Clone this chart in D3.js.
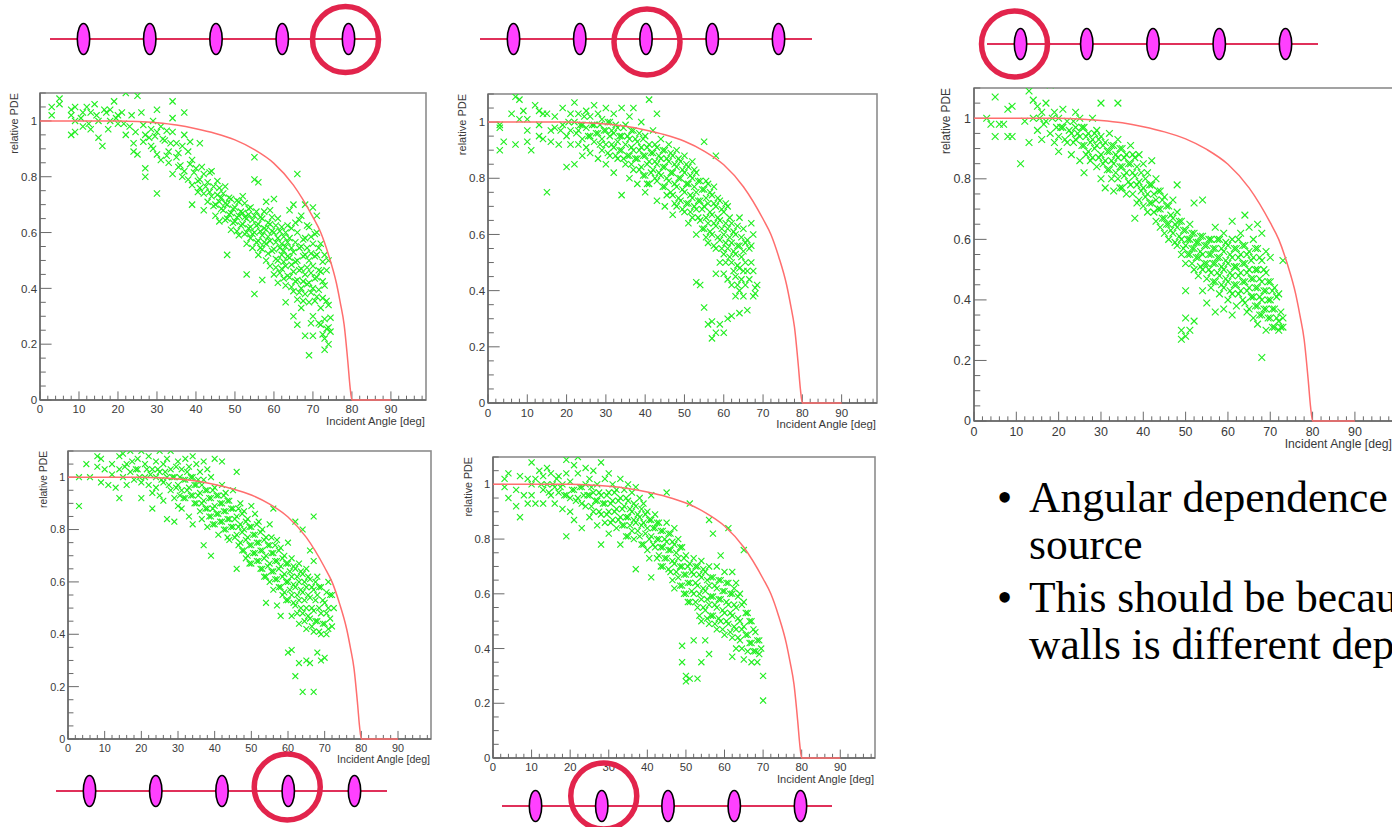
<!DOCTYPE html>
<html>
<head>
<meta charset="utf-8">
<script src="https://cdn.jsdelivr.net/npm/d3@7"></script>
<style>
  html, body { margin: 0; padding: 0; background: #fff; overflow: hidden; }
  svg { display: block; }
</style>
</head>
<body>
<svg id="slide" width="1392" height="827"></svg>
<script>
// ---- axis ticks ----
const angleTicks = [0, 10, 20, 30, 40, 50, 60, 70, 80, 90];
const angleTickLabels = ["0", "10", "20", "30", "40", "50", "60", "70", "80", "90"];
const pdeTicks = [0, 0.2, 0.4, 0.6, 0.8, 1];
const pdeTickLabels = ["0", "0.2", "0.4", "0.6", "0.8", "1"];

// ---- expected relative PDE versus incident angle (red curve) ----
const curveAngle = [0, 10, 20, 25, 30, 35, 40, 45, 50, 55, 60, 65, 70, 72, 74, 76, 77, 78, 79, 79.5, 80, 90];
const curvePDE   = [1, 1, 1, 0.998, 0.993, 0.985, 0.972, 0.955, 0.932, 0.897, 0.848, 0.77, 0.655, 0.6, 0.52, 0.42, 0.35, 0.27, 0.13, 0.05, 0, 0];

// ---- light source positions along the rail ----
const sourceSlots = [1, 2, 3, 4, 5];

// ---- measured relative PDE, [angle (deg), relative PDE], one list per source position ----
const pointsPos5 = [
[3,1.05],[3,1.02],[5,1.08],[5,1.06],[8,1.04],[8,1.02],[8,0.95],[9,1.05],[9,1.0],[9,0.96],[11,1.03],[11,0.98],[12,1.05],[13,1.03],[13,0.97],
[14,1.06],[15,1.0],[15,0.94],[16,0.91],[17,1.03],[18,1.0],[18,1.04],[19,1.07],[20,1.02],[20,0.99],[21,1.03],[22,0.95],[22,1.1],[23,0.98],
[24,0.92],[24,0.89],[25,1.09],[25,0.88],[26,1.03],[27,0.95],[27,0.83],[27,0.8],[28,0.94],[29,1.0],[29,0.9],[30,1.04],[30,0.96],[30,0.88],
[31,0.98],[31,0.86],[30,0.74],[32,0.93],[33,0.89],[33,0.85],[34,1.07],[34,1.01],[34,0.96],[34,0.81],[35,0.92],[35,0.87],[36,0.84],[37,1.03],
[37,0.95],[37,0.82],[38,0.89],[38,0.79],[39,0.86],[39,0.77],[39,0.7],[40,0.83],[41,0.79],[41,0.76],[41,0.92],[42,0.81],[42,0.74],[42,0.68],
[43,0.78],[43,0.71],[44,0.73],[44,0.82],[45,0.7],[45,0.66],[46,0.76],[46,0.71],[46,0.64],[47,0.68],[47,0.74],[48,0.7],[48,0.65],[48,0.52],
[49,0.72],[49,0.67],[49,0.61],[50,0.69],[50,0.64],[51,0.71],[51,0.66],[51,0.59],[52,0.67],[52,0.63],[52,0.73],[53,0.65],[53,0.6],[53,0.56],
[53,0.45],[54,0.69],[54,0.62],[54,0.58],[55,0.66],[55,0.6],[55,0.87],[55,0.79],[55,0.38],[56,0.63],[56,0.57],[56,0.52],[56,0.78],[57,0.65],
[57,0.59],[57,0.54],[57,0.43],[58,0.61],[58,0.56],[58,0.5],[58,0.71],[59,0.63],[59,0.57],[59,0.48],[59,0.68],[60,0.6],[60,0.54],[60,0.45],
[60,0.72],[61,0.58],[61,0.5],[61,0.42],[61,0.65],[62,0.56],[62,0.52],[62,0.47],[62,0.62],[63,0.55],[63,0.48],[63,0.41],[63,0.35],[63,0.6],
[64,0.58],[64,0.51],[64,0.44],[64,0.68],[65,0.53],[65,0.46],[65,0.39],[65,0.3],[65,0.7],[66,0.81],[66,0.6],[66,0.5],[66,0.43],[66,0.36],
[66,0.27],[67,0.66],[67,0.55],[67,0.47],[67,0.4],[67,0.33],[68,0.7],[68,0.58],[68,0.52],[68,0.45],[68,0.38],[68,0.23],[69,0.62],[69,0.5],
[69,0.42],[69,0.35],[69,0.16],[70,0.69],[70,0.56],[70,0.48],[70,0.4],[70,0.3],[70,0.23],[71,0.66],[71,0.6],[71,0.52],[71,0.44],[71,0.37],
[72,0.56],[72,0.46],[72,0.33],[72,0.27],[73,0.52],[73,0.41],[73,0.29],[73,0.22],[74,0.5],[74,0.34],[74,0.26],[73,0.18],[74,0.2],
[10.5,1.01],[12.5,0.99],[14.5,1.02],[16.5,1.04],[17.5,0.97],[19.5,1.01],[21.5,0.99],[23.5,1.02],[24.5,0.96],[26.5,0.985],[26.5,0.925],
[28.5,0.97],[28.5,0.91],[29.5,0.945],[31.5,0.935],[32.5,0.875],[32.5,0.965],[33.5,0.92],[35.5,0.885],[35.5,0.835],[36.5,0.91],[36.5,0.8],
[38.5,0.845],[38.5,0.925],[39.5,0.815],[40.5,0.785],[40.5,0.745],[41.5,0.835],[42.5,0.765],[43.5,0.745],[43.5,0.815],[44.5,0.695],[44.5,0.765],
[45.5,0.735],[45.5,0.785],[46.5,0.685],[46.5,0.725],[47.5,0.705],[47.5,0.645],[47.5,0.765],[48.5,0.665],[48.5,0.725],[49.5,0.685],[49.5,0.635],
[50.5,0.715],[50.5,0.655],[50.5,0.605],[51.5,0.675],[51.5,0.625],[52.5,0.655],[52.5,0.595],[52.5,0.705],[53.5,0.665],[53.5,0.615],[53.5,0.685],
[54.5,0.645],[54.5,0.595],[54.5,0.545],[55.5,0.625],[55.5,0.565],[55.5,0.675],[56.5,0.655],[56.5,0.605],[56.5,0.545],[57.5,0.615],[57.5,0.565],
[57.5,0.675],[58.5,0.635],[58.5,0.585],[58.5,0.525],[59.5,0.605],[59.5,0.535],[59.5,0.655],[60.5,0.625],[60.5,0.565],[60.5,0.505],[60.5,0.475],
[61.5,0.605],[61.5,0.545],[61.5,0.455],[62.5,0.585],[62.5,0.535],[62.5,0.495],[62.5,0.435],[63.5,0.565],[63.5,0.515],[63.5,0.445],[63.5,0.625],
[64.5,0.545],[64.5,0.485],[64.5,0.405],[64.5,0.615],[65.5,0.565],[65.5,0.495],[65.5,0.425],[65.5,0.635],[66.5,0.545],[66.5,0.465],[66.5,0.385],
[66.5,0.645],[67.5,0.575],[67.5,0.515],[67.5,0.425],[67.5,0.355],[68.5,0.545],[68.5,0.475],[68.5,0.415],[68.5,0.625],[69.5,0.585],[69.5,0.525],
[69.5,0.455],[69.5,0.385],[69.5,0.275],[70.5,0.595],[70.5,0.515],[70.5,0.435],[70.5,0.355],[71.5,0.545],[71.5,0.465],[71.5,0.395],[71.5,0.275],
[72.5,0.495],[72.5,0.425],[72.5,0.365],[72.5,0.235],[73.5,0.465],[73.5,0.355],[73.5,0.255],[74.5,0.245],[74.5,0.295]
];

const pointsPos3 = [
[3,0.99],[3,0.98],[3,0.9],[4,0.93],[6,1.03],[7,0.92],[7,1.09],[8,1.08],[8,1.01],[9,1.04],[10,0.97],[10,0.93],[10,1.01],[11,0.9],[12,1.06],
[13,0.99],[13,0.95],[13,1.04],[14,1.03],[14,0.94],[15,0.75],[15,1.03],[16,0.97],[16,0.93],[17,1.02],[17,0.98],[18,0.92],[19,1.05],[19,0.99],
[20,0.84],[20,0.95],[21,1.03],[21,0.97],[21,0.92],[22,1.07],[22,1.0],[22,0.85],[23,1.03],[23,0.97],[23,0.92],[24,0.99],[24,0.94],[24,0.88],
[25,1.04],[25,0.98],[25,0.91],[26,1.02],[26,0.95],[26,0.89],[27,1.06],[27,0.99],[27,0.93],[28,1.03],[28,0.96],[28,0.87],[29,1.01],[29,0.94],
[29,0.9],[30,1.05],[30,0.97],[30,0.92],[30,0.85],[31,1.0],[31,0.95],[31,0.88],[32,1.03],[32,0.96],[32,0.91],[32,0.82],[33,0.98],[33,0.93],
[33,0.87],[34,1.05],[34,0.95],[34,0.9],[34,0.74],[35,0.99],[35,0.92],[35,0.85],[36,1.02],[36,0.94],[36,0.88],[36,0.8],[37,1.05],[37,0.97],
[37,0.9],[37,0.83],[38,0.93],[38,0.87],[38,0.78],[39,1.0],[39,0.91],[39,0.84],[40,0.95],[40,0.88],[40,0.81],[40,0.75],[41,1.08],[41,0.92],
[41,0.86],[41,0.78],[42,0.97],[42,0.89],[42,0.83],[43,1.03],[43,0.91],[43,0.85],[43,0.79],[43,0.72],[44,0.94],[44,0.87],[44,0.81],[45,0.9],
[45,0.84],[45,0.77],[45,0.7],[46,0.92],[46,0.86],[46,0.79],[47,0.88],[47,0.82],[47,0.74],[47,0.67],[48,0.9],[48,0.84],[48,0.77],[48,0.7],
[49,0.86],[49,0.8],[49,0.72],[50,0.88],[50,0.82],[50,0.75],[50,0.68],[51,0.84],[51,0.78],[51,0.71],[51,0.64],[52,0.86],[52,0.8],[52,0.73],
[52,0.66],[53,0.82],[53,0.75],[53,0.69],[53,0.43],[53,0.6],[54,0.79],[54,0.72],[54,0.65],[54,0.42],[55,0.93],[55,0.76],[55,0.7],[55,0.62],
[55,0.34],[56,0.78],[56,0.71],[56,0.64],[56,0.57],[56,0.28],[57,0.74],[57,0.67],[57,0.6],[57,0.29],[57,0.23],[58,0.88],[58,0.7],[58,0.63],
[58,0.55],[58,0.46],[58,0.25],[59,0.72],[59,0.65],[59,0.58],[59,0.5],[59,0.28],[60,0.68],[60,0.6],[60,0.53],[60,0.46],[60,0.25],[61,0.7],
[61,0.62],[61,0.55],[61,0.44],[61,0.3],[62,0.64],[62,0.57],[62,0.5],[62,0.42],[62,0.31],[63,0.6],[63,0.53],[63,0.45],[63,0.38],[64,0.66],
[64,0.56],[64,0.48],[64,0.4],[64,0.32],[65,0.62],[65,0.54],[65,0.47],[65,0.38],[66,0.58],[66,0.47],[66,0.33],[67,0.64],[67,0.56],[67,0.5],
[68,0.41],[68,0.39],
[18.5,0.97],[20.5,1.0],[22.5,0.96],[23.5,0.99],[24.5,1.02],[25.5,0.95],[26.5,0.99],[27.5,0.96],[28.5,0.99],[28.5,0.92],[29.5,0.97],[30.5,1.0],
[30.5,0.89],[31.5,0.97],[31.5,0.92],[32.5,0.99],[32.5,0.88],[33.5,0.95],[33.5,0.9],[34.5,0.98],[34.5,0.87],[35.5,0.95],[35.5,0.88],[36.5,0.97],
[36.5,0.91],[36.5,0.85],[37.5,0.94],[37.5,0.87],[38.5,0.96],[38.5,0.9],[38.5,0.83],[39.5,0.94],[39.5,0.88],[39.5,0.81],[40.5,0.91],[40.5,0.85],
[40.5,0.78],[41.5,0.89],[41.5,0.82],[42.5,0.92],[42.5,0.86],[42.5,0.8],[43.5,0.88],[43.5,0.82],[44.5,0.9],[44.5,0.84],[44.5,0.77],[45.5,0.87],
[45.5,0.8],[45.5,0.74],[46.5,0.89],[46.5,0.82],[46.5,0.75],[47.5,0.85],[47.5,0.78],[47.5,0.71],[48.5,0.87],[48.5,0.8],[48.5,0.73],[49.5,0.83],
[49.5,0.76],[49.5,0.69],[50.5,0.85],[50.5,0.78],[50.5,0.71],[51.5,0.81],[51.5,0.74],[51.5,0.68],[52.5,0.83],[52.5,0.77],[52.5,0.7],[53.5,0.79],
[53.5,0.72],[53.5,0.66],[54.5,0.76],[54.5,0.69],[54.5,0.62],[55.5,0.79],[55.5,0.73],[55.5,0.66],[55.5,0.59],[56.5,0.75],[56.5,0.68],[56.5,0.61],
[57.5,0.77],[57.5,0.71],[57.5,0.64],[57.5,0.56],[58.5,0.73],[58.5,0.66],[58.5,0.59],[59.5,0.69],[59.5,0.62],[59.5,0.55],[60.5,0.71],[60.5,0.64],
[60.5,0.57],[60.5,0.5],[61.5,0.66],[61.5,0.59],[61.5,0.52],[62.5,0.61],[62.5,0.54],[62.5,0.47],[63.5,0.63],[63.5,0.56],[63.5,0.49],[63.5,0.42],
[64.5,0.59],[64.5,0.52],[64.5,0.44],[65.5,0.57],[65.5,0.5],[65.5,0.42],[66.5,0.55],[66.5,0.44],[67.5,0.6],[67.5,0.47],[68.5,0.42],[67.5,0.38]
];

const pointsPos1 = [
[3,1.0],[4,0.98],[5,1.07],[5,0.94],[6,0.98],[7,0.98],[8,0.94],[8,1.03],[9,1.04],[9,0.94],[11,0.85],[12,0.99],[13,0.92],[13,1.09],[14,1.06],
[14,1.0],[15,1.04],[15,0.96],[16,1.02],[16,0.93],[17,1.05],[17,0.99],[18,1.11],[18,0.95],[19,1.02],[19,0.92],[20,1.0],[20,0.94],[20,0.89],
[21,1.03],[21,0.97],[22,0.92],[22,0.99],[23,0.95],[23,0.88],[24,1.02],[24,0.97],[24,0.93],[25,1.0],[25,0.94],[25,0.86],[26,0.97],[26,0.91],
[26,0.82],[27,0.95],[27,0.89],[28,1.0],[28,0.93],[28,0.87],[29,0.96],[29,0.91],[29,0.84],[30,1.05],[30,0.94],[30,0.88],[30,0.8],[31,0.92],
[31,0.86],[31,0.77],[32,0.95],[32,0.89],[32,0.83],[33,0.91],[33,0.85],[33,0.76],[34,1.05],[34,0.93],[34,0.87],[34,0.8],[35,0.9],[35,0.84],
[35,0.77],[36,0.88],[36,0.82],[36,0.75],[37,0.91],[37,0.85],[37,0.78],[38,0.87],[38,0.81],[38,0.67],[39,0.88],[39,0.79],[39,0.73],[40,0.85],
[40,0.77],[40,0.71],[41,0.82],[41,0.75],[41,0.69],[42,0.86],[42,0.78],[42,0.72],[43,0.8],[43,0.73],[43,0.66],[44,0.76],[44,0.7],[44,0.64],
[45,0.74],[45,0.67],[45,0.62],[46,0.71],[46,0.65],[46,0.6],[47,0.73],[47,0.67],[47,0.62],[48,0.78],[48,0.69],[48,0.64],[48,0.58],[49,0.66],
[49,0.6],[49,0.55],[49,0.3],[49,0.27],[50,0.63],[50,0.58],[50,0.52],[50,0.43],[50,0.34],[50,0.28],[51,0.65],[51,0.6],[51,0.55],[51,0.3],
[52,0.72],[52,0.62],[52,0.57],[52,0.5],[52,0.33],[53,0.59],[53,0.54],[53,0.48],[54,0.73],[54,0.61],[54,0.55],[54,0.5],[54,0.43],[55,0.58],
[55,0.52],[55,0.47],[55,0.39],[56,0.6],[56,0.55],[56,0.49],[56,0.44],[57,0.64],[57,0.57],[57,0.52],[57,0.46],[57,0.36],[58,0.6],[58,0.54],
[58,0.48],[58,0.42],[59,0.62],[59,0.56],[59,0.5],[59,0.44],[59,0.37],[60,0.58],[60,0.52],[60,0.46],[60,0.4],[61,0.66],[61,0.6],[61,0.54],
[61,0.48],[61,0.42],[61,0.35],[62,0.57],[62,0.51],[62,0.45],[62,0.38],[63,0.62],[63,0.55],[63,0.49],[63,0.43],[64,0.68],[64,0.58],[64,0.52],
[64,0.46],[64,0.39],[65,0.64],[65,0.56],[65,0.5],[65,0.44],[65,0.37],[66,0.6],[66,0.54],[66,0.47],[66,0.41],[66,0.34],[67,0.65],[67,0.57],
[67,0.5],[67,0.44],[67,0.38],[67,0.32],[68,0.62],[68,0.53],[68,0.46],[68,0.4],[68,0.35],[68,0.21],[69,0.56],[69,0.49],[69,0.43],[69,0.37],
[69,0.3],[70,0.54],[70,0.46],[70,0.4],[70,0.34],[71,0.44],[71,0.37],[71,0.31],[72,0.42],[72,0.33],[72,0.3],[73,0.53],[73,0.34],[73,0.31],
[15.5,1.0],[16.5,0.98],[18.5,1.0],[19.5,0.97],[20.5,0.97],[21.5,0.93],[22.5,0.96],[23.5,0.99],[23.5,0.92],[24.5,0.95],[25.5,0.97],[25.5,0.91],
[26.5,0.94],[26.5,0.88],[27.5,0.92],[27.5,0.86],[28.5,0.95],[28.5,0.9],[29.5,0.93],[29.5,0.87],[30.5,0.91],[30.5,0.85],[31.5,0.89],[31.5,0.83],
[32.5,0.91],[32.5,0.86],[32.5,0.8],[33.5,0.88],[33.5,0.82],[34.5,0.9],[34.5,0.84],[34.5,0.77],[35.5,0.87],[35.5,0.81],[36.5,0.85],[36.5,0.79],
[37.5,0.88],[37.5,0.82],[37.5,0.75],[38.5,0.84],[38.5,0.78],[38.5,0.72],[39.5,0.82],[39.5,0.76],[40.5,0.8],[40.5,0.74],[41.5,0.78],[41.5,0.72],
[42.5,0.75],[42.5,0.69],[43.5,0.76],[43.5,0.7],[44.5,0.73],[44.5,0.67],[45.5,0.71],[45.5,0.65],[46.5,0.68],[46.5,0.63],[47.5,0.65],[47.5,0.59],
[48.5,0.66],[48.5,0.61],[49.5,0.63],[49.5,0.57],[50.5,0.6],[50.5,0.55],[51.5,0.62],[51.5,0.57],[51.5,0.52],[52.5,0.59],[52.5,0.54],[53.5,0.61],
[53.5,0.56],[53.5,0.51],[54.5,0.58],[54.5,0.52],[55.5,0.6],[55.5,0.55],[55.5,0.5],[56.5,0.57],[56.5,0.52],[56.5,0.46],[57.5,0.6],[57.5,0.54],
[57.5,0.49],[58.5,0.57],[58.5,0.51],[58.5,0.45],[59.5,0.59],[59.5,0.53],[59.5,0.47],[60.5,0.55],[60.5,0.49],[60.5,0.43],[61.5,0.57],[61.5,0.51],
[61.5,0.45],[62.5,0.6],[62.5,0.54],[62.5,0.48],[62.5,0.42],[63.5,0.58],[63.5,0.52],[63.5,0.46],[63.5,0.4],[64.5,0.55],[64.5,0.49],[64.5,0.43],
[64.5,0.36],[65.5,0.53],[65.5,0.47],[65.5,0.41],[66.5,0.57],[66.5,0.5],[66.5,0.44],[66.5,0.38],[67.5,0.54],[67.5,0.47],[67.5,0.41],[67.5,0.35],
[68.5,0.5],[68.5,0.43],[68.5,0.37],[69.5,0.46],[69.5,0.4],[69.5,0.34],[70.5,0.43],[70.5,0.37],[70.5,0.31],[71.5,0.41],[71.5,0.34],[72.5,0.36],
[72.5,0.31]
];

const pointsPos4 = [
[3,1.0],[3,0.89],[5,1.05],[6,1.0],[8,1.08],[8,1.04],[9,1.07],[9,0.98],[10,1.03],[11,0.97],[12,1.05],[12,1.01],[13,0.96],[14,1.08],[14,0.92],
[14,1.03],[15,1.09],[15,1.0],[16,1.05],[16,0.97],[17,1.1],[17,1.02],[18,0.99],[19,1.07],[19,1.03],[20,1.1],[20,0.98],[20,0.92],[21,1.05],
[21,1.0],[22,1.08],[22,0.97],[23,1.03],[23,0.94],[23,0.88],[24,1.06],[24,1.0],[24,0.96],[25,1.1],[25,1.02],[25,0.93],[26,1.05],[26,0.98],
[26,0.91],[27,1.07],[27,1.0],[27,0.84],[28,1.1],[28,1.03],[28,0.95],[29,1.0],[29,0.92],[29,0.83],[30,1.06],[30,0.97],[30,0.89],[31,1.03],
[31,0.95],[31,0.88],[32,1.07],[32,0.99],[32,0.92],[33,1.04],[33,0.96],[33,0.85],[34,1.08],[34,1.0],[34,0.93],[34,0.82],[35,1.05],[35,0.97],
[35,0.9],[36,1.02],[36,0.94],[36,0.87],[37,1.06],[37,0.99],[37,0.91],[37,0.74],[38,1.03],[38,0.95],[38,0.88],[38,0.81],[39,1.0],[39,0.92],
[39,0.85],[39,0.7],[40,1.07],[40,0.96],[40,0.89],[40,0.82],[41,0.93],[41,0.86],[41,0.78],[42,1.06],[42,0.97],[42,0.9],[42,0.83],[43,0.94],
[43,0.87],[43,0.8],[44,0.91],[44,0.84],[44,0.76],[45,0.95],[45,0.88],[45,0.81],[46,1.02],[46,0.85],[46,0.78],[46,0.65],[47,0.9],[47,0.82],
[47,0.75],[48,0.87],[48,0.8],[48,0.72],[49,0.84],[49,0.77],[49,0.7],[50,0.89],[50,0.81],[50,0.74],[50,0.67],[51,0.86],[51,0.78],[51,0.71],
[52,0.83],[52,0.75],[52,0.68],[53,0.8],[53,0.72],[53,0.65],[54,0.77],[54,0.7],[54,0.62],[54,0.52],[55,0.82],[55,0.74],[55,0.67],[55,0.6],
[56,0.88],[56,0.71],[56,0.64],[56,0.57],[57,0.76],[57,0.68],[57,0.61],[57,0.51],[58,0.73],[58,0.66],[58,0.58],[58,0.47],[59,0.7],[59,0.63],
[59,0.56],[60,0.75],[60,0.67],[60,0.6],[60,0.53],[60,0.33],[61,0.69],[61,0.62],[61,0.55],[61,0.47],[61,0.34],[62,0.83],[62,0.65],[62,0.58],
[62,0.51],[62,0.24],[63,0.67],[63,0.6],[63,0.53],[63,0.44],[63,0.29],[64,0.8],[64,0.63],[64,0.56],[64,0.48],[64,0.18],[65,0.65],[65,0.58],
[65,0.5],[65,0.42],[65,0.3],[66,0.72],[66,0.61],[66,0.54],[66,0.46],[66,0.29],[67,0.85],[67,0.68],[67,0.57],[67,0.49],[67,0.41],[67,0.18],
[68,0.62],[68,0.55],[68,0.45],[68,0.33],[69,0.58],[69,0.48],[69,0.4],[69,0.3],[70,0.52],[70,0.44],[70,0.31],[71,0.6],[71,0.5],[71,0.42],
[72,0.55],[72,0.43],
[15.5,1.04],[17.5,1.06],[18.5,1.03],[19.5,1.0],[21.5,1.03],[22.5,1.01],[24.5,1.03],[25.5,0.99],[26.5,1.02],[27.5,0.97],[28.5,1.0],[29.5,1.04],
[29.5,0.96],[30.5,1.0],[30.5,0.93],[31.5,0.99],[31.5,0.92],[32.5,1.02],[32.5,0.95],[33.5,1.0],[33.5,0.93],[34.5,0.97],[34.5,0.9],[35.5,0.99],
[35.5,0.93],[36.5,0.97],[36.5,0.9],[36.5,0.84],[37.5,0.95],[37.5,0.88],[38.5,0.92],[38.5,0.85],[39.5,0.95],[39.5,0.88],[39.5,0.82],[40.5,0.93],
[40.5,0.86],[41.5,0.9],[41.5,0.83],[42.5,0.93],[42.5,0.87],[42.5,0.8],[43.5,0.91],[43.5,0.84],[43.5,0.77],[44.5,0.88],[44.5,0.81],[45.5,0.84],
[45.5,0.77],[46.5,0.88],[46.5,0.81],[46.5,0.74],[47.5,0.86],[47.5,0.79],[47.5,0.72],[48.5,0.83],[48.5,0.76],[48.5,0.69],[49.5,0.81],[49.5,0.74],
[49.5,0.67],[50.5,0.78],[50.5,0.71],[51.5,0.82],[51.5,0.75],[51.5,0.68],[52.5,0.79],[52.5,0.72],[52.5,0.65],[53.5,0.76],[53.5,0.69],[53.5,0.62],
[54.5,0.74],[54.5,0.66],[55.5,0.77],[55.5,0.71],[55.5,0.64],[56.5,0.74],[56.5,0.68],[56.5,0.61],[57.5,0.72],[57.5,0.65],[57.5,0.58],[58.5,0.69],
[58.5,0.62],[58.5,0.55],[59.5,0.67],[59.5,0.6],[59.5,0.53],[60.5,0.64],[60.5,0.57],[61.5,0.66],[61.5,0.59],[61.5,0.52],[62.5,0.62],[62.5,0.55],
[62.5,0.48],[63.5,0.64],[63.5,0.57],[63.5,0.5],[64.5,0.6],[64.5,0.53],[64.5,0.45],[65.5,0.62],[65.5,0.55],[65.5,0.47],[66.5,0.58],[66.5,0.5],
[66.5,0.43],[67.5,0.6],[67.5,0.53],[67.5,0.45],[68.5,0.58],[68.5,0.5],[68.5,0.41],[69.5,0.53],[69.5,0.44],[70.5,0.56],[70.5,0.48],[70.5,0.4],
[71.5,0.46],[71.5,0.55],[72.5,0.5]
];

const pointsPos2 = [
[3,1.02],[3,0.99],[4,1.04],[4,0.95],[6,0.98],[6,0.92],[7,1.03],[7,0.88],[8,0.96],[9,1.02],[9,0.93],[10,1.08],[10,1.0],[10,0.96],[11,1.02],
[11,0.93],[12,1.05],[13,1.03],[13,0.98],[13,0.93],[14,1.06],[14,1.0],[15,1.04],[15,0.96],[16,0.99],[16,0.93],[17,1.03],[17,0.97],[18,1.0],
[18,0.91],[19,1.09],[19,1.04],[19,0.96],[19,0.81],[20,1.01],[20,0.95],[20,0.9],[21,1.07],[21,0.98],[21,0.87],[22,1.04],[22,0.95],[22,1.1],
[23,0.99],[23,0.93],[23,0.84],[24,1.06],[24,1.0],[24,0.92],[25,1.02],[25,0.96],[25,0.88],[26,1.05],[26,0.97],[26,0.9],[27,1.0],[27,0.94],
[27,0.85],[28,1.08],[28,0.96],[28,0.89],[28,0.78],[29,1.02],[29,0.93],[29,0.86],[30,1.04],[30,0.97],[30,0.9],[30,0.82],[31,1.0],[31,0.94],
[31,0.87],[32,0.98],[32,0.91],[32,0.84],[33,1.02],[33,0.95],[33,0.88],[33,0.78],[34,0.98],[34,0.92],[34,0.85],[35,1.0],[35,0.94],[35,0.88],
[35,0.81],[36,0.97],[36,0.9],[36,0.83],[37,0.99],[37,0.92],[37,0.86],[37,0.69],[38,0.95],[38,0.88],[38,0.81],[39,0.93],[39,0.86],[39,0.78],
[40,0.9],[40,0.84],[40,0.76],[41,0.96],[41,0.87],[41,0.81],[41,0.66],[42,0.89],[42,0.84],[42,0.77],[43,0.86],[43,0.8],[43,0.74],[44,0.83],
[44,0.77],[44,0.7],[45,0.97],[45,0.86],[45,0.79],[45,0.73],[46,0.82],[46,0.76],[46,0.68],[47,0.84],[47,0.78],[47,0.71],[47,0.62],[48,0.8],
[48,0.73],[48,0.66],[49,0.77],[49,0.7],[49,0.63],[49,0.41],[49,0.35],[50,0.74],[50,0.67],[50,0.6],[50,0.3],[50,0.28],[51,0.93],[51,0.71],
[51,0.64],[51,0.57],[51,0.29],[52,0.73],[52,0.67],[52,0.6],[52,0.43],[53,0.7],[53,0.63],[53,0.55],[53,0.29],[54,0.72],[54,0.66],[54,0.58],
[54,0.5],[54,0.35],[55,0.68],[55,0.61],[55,0.54],[55,0.43],[56,0.87],[56,0.7],[56,0.63],[56,0.56],[56,0.49],[56,0.38],[57,0.82],[57,0.66],
[57,0.59],[57,0.52],[58,0.7],[58,0.62],[58,0.55],[58,0.47],[59,0.74],[59,0.65],[59,0.58],[59,0.5],[60,0.68],[60,0.61],[60,0.53],[60,0.45],
[61,0.84],[61,0.64],[61,0.56],[61,0.49],[62,0.68],[62,0.6],[62,0.52],[62,0.44],[62,0.37],[63,0.64],[63,0.55],[63,0.47],[63,0.4],[64,0.6],
[64,0.5],[64,0.43],[65,0.76],[65,0.57],[65,0.48],[65,0.36],[66,0.53],[66,0.45],[66,0.39],[67,0.5],[67,0.42],[67,0.35],[68,0.46],[68,0.39],
[69,0.43],[69,0.38],[70,0.3],[70,0.21],
[12.5,1.0],[14.5,0.97],[15.5,1.0],[16.5,1.02],[17.5,0.99],[18.5,0.96],[20.5,0.98],[21.5,0.94],[22.5,0.99],[23.5,0.96],[24.5,0.96],[25.5,0.99],
[25.5,0.92],[26.5,0.94],[27.5,0.97],[27.5,0.9],[28.5,0.93],[29.5,0.96],[29.5,0.89],[30.5,0.93],[30.5,0.86],[31.5,0.97],[31.5,0.9],[32.5,0.94],
[32.5,0.87],[33.5,0.91],[33.5,0.85],[34.5,0.95],[34.5,0.88],[34.5,0.81],[35.5,0.91],[35.5,0.85],[36.5,0.93],[36.5,0.87],[36.5,0.8],[37.5,0.89],
[37.5,0.83],[38.5,0.91],[38.5,0.85],[38.5,0.78],[39.5,0.89],[39.5,0.82],[40.5,0.87],[40.5,0.8],[40.5,0.73],[41.5,0.84],[41.5,0.78],[42.5,0.86],
[42.5,0.8],[42.5,0.73],[43.5,0.83],[43.5,0.77],[43.5,0.7],[44.5,0.8],[44.5,0.73],[45.5,0.82],[45.5,0.76],[45.5,0.69],[46.5,0.79],[46.5,0.72],
[46.5,0.65],[47.5,0.75],[47.5,0.68],[48.5,0.77],[48.5,0.7],[48.5,0.63],[49.5,0.73],[49.5,0.67],[49.5,0.6],[50.5,0.7],[50.5,0.64],[50.5,0.57],
[51.5,0.68],[51.5,0.61],[52.5,0.7],[52.5,0.64],[52.5,0.57],[53.5,0.67],[53.5,0.6],[53.5,0.52],[54.5,0.69],[54.5,0.62],[54.5,0.55],[55.5,0.65],
[55.5,0.58],[55.5,0.51],[56.5,0.66],[56.5,0.59],[56.5,0.52],[57.5,0.63],[57.5,0.56],[57.5,0.49],[58.5,0.65],[58.5,0.58],[58.5,0.51],[59.5,0.61],
[59.5,0.54],[59.5,0.47],[60.5,0.64],[60.5,0.57],[60.5,0.5],[61.5,0.6],[61.5,0.53],[61.5,0.46],[62.5,0.62],[62.5,0.56],[62.5,0.48],[63.5,0.59],
[63.5,0.51],[63.5,0.44],[64.5,0.56],[64.5,0.47],[64.5,0.4],[65.5,0.53],[65.5,0.45],[66.5,0.5],[66.5,0.42],[67.5,0.47],[67.5,0.39],[68.5,0.43],
[69.5,0.4],[68.5,0.35]
];

// ---- bullet text ----
const bulletLines = [
  ["Angular dependence", "source"],
  ["This should be because", "walls is different depending"]
];

// ---- page layout: plot frames [left, top, right, bottom] and source-rail diagrams ----
const panels = [
  { points: pointsPos5, active: 5, frame: [40, 93, 426, 400],   rail: { x0: 50,  x1: 380, y: 39,  dx: -3, dy: 0.5 } },
  { points: pointsPos3, active: 3, frame: [488, 94, 877, 403],  rail: { x0: 480, x1: 812, y: 39,  dx: 1,  dy: 3 } },
  { points: pointsPos1, active: 1, frame: [974, 88, 1393, 421], rail: { x0: 987, x1: 1318, y: 44, dx: -6, dy: 0 } },
  { points: pointsPos4, active: 4, frame: [68, 451, 431, 739],  rail: { x0: 56,  x1: 387, y: 791, dx: -1, dy: -4 } },
  { points: pointsPos2, active: 2, frame: [493, 457, 875, 758], rail: { x0: 502, x1: 832, y: 806, dx: 2,  dy: -10 } }
];

const svg = d3.select("#slide");
const FONT = "'Liberation Sans', Arial, Helvetica, sans-serif";

panels.forEach((p, i) => {
  const [L, T, R, B] = p.frame;
  const x = d3.scaleLinear().domain([0, 99]).range([L, R]);
  const y = d3.scaleLinear().domain([0, 1.1]).range([B, T]);
  const h = B - T, w = R - L;
  const fs = h * 0.0375;
  const g = svg.append("g");

  const clipId = "clip" + i;
  g.append("clipPath").attr("id", clipId)
    .append("rect").attr("x", L).attr("y", T).attr("width", w).attr("height", h);

  // frame
  g.append("rect").attr("x", L).attr("y", T).attr("width", w).attr("height", h)
    .attr("fill", "none").attr("stroke", "#8c8c8c").attr("stroke-width", 1.6);

  // x axis ticks (inside, pointing up)
  const xMinor = d3.range(0, 99, 2).filter(v => v % 10 !== 0);
  const xTickLen = h * 0.028;
  g.append("g").selectAll("line").data(xMinor).join("line")
    .attr("x1", d => x(d)).attr("x2", d => x(d))
    .attr("y1", B).attr("y2", B - xTickLen / 2)
    .attr("stroke", "#6a6a6a").attr("stroke-width", 1);
  g.append("g").selectAll("line").data(angleTicks).join("line")
    .attr("x1", d => x(d)).attr("x2", d => x(d))
    .attr("y1", B).attr("y2", B - xTickLen)
    .attr("stroke", "#6a6a6a").attr("stroke-width", 1);

  // y axis ticks (inside, pointing right)
  const yMinor = d3.range(1, 23).map(k => k * 0.05).filter(v => Math.abs(v / 0.2 - Math.round(v / 0.2)) > 1e-6 || v > 1.01);
  const yTickLen = w * 0.03;
  g.append("g").selectAll("line").data(yMinor).join("line")
    .attr("x1", L).attr("x2", L + yTickLen / 2)
    .attr("y1", d => y(d)).attr("y2", d => y(d))
    .attr("stroke", "#6a6a6a").attr("stroke-width", 1);
  g.append("g").selectAll("line").data(pdeTicks).join("line")
    .attr("x1", L).attr("x2", L + yTickLen)
    .attr("y1", d => y(d)).attr("y2", d => y(d))
    .attr("stroke", "#6a6a6a").attr("stroke-width", 1);

  // axis lines
  g.append("line").attr("x1", L).attr("x2", R).attr("y1", B).attr("y2", B)
    .attr("stroke", "#666").attr("stroke-width", 1.4);
  g.append("line").attr("x1", L).attr("x2", L).attr("y1", T).attr("y2", B)
    .attr("stroke", "#666").attr("stroke-width", 1.4);

  // tick labels
  g.append("g").selectAll("text").data(angleTicks).join("text")
    .attr("x", d => x(d)).attr("y", B + fs * 1.17)
    .attr("text-anchor", "middle")
    .attr("font-family", FONT).attr("font-size", fs).attr("fill", "#3a3a3a")
    .text((d, k) => angleTickLabels[k]);
  g.append("g").selectAll("text").data(pdeTicks).join("text")
    .attr("x", L - fs * 0.25).attr("y", d => y(d) + fs * 0.36)
    .attr("text-anchor", "end")
    .attr("font-family", FONT).attr("font-size", fs).attr("fill", "#3a3a3a")
    .text((d, k) => pdeTickLabels[k]);

  // axis titles
  g.append("text")
    .attr("x", R - 1).attr("y", B + fs * 2.2)
    .attr("text-anchor", "end")
    .attr("font-family", FONT).attr("font-size", fs * 0.98).attr("fill", "#3a3a3a")
    .text("Incident Angle [deg]");
  g.append("text")
    .attr("transform", `translate(${L - fs * 1.9},${T}) rotate(-90)`)
    .attr("text-anchor", "end")
    .attr("font-family", FONT).attr("font-size", fs * 0.95).attr("fill", "#3a3a3a")
    .text("relative PDE");

  // measured points (x markers)
  const s = fs * 0.27;
  g.append("g").attr("clip-path", `url(#${clipId})`)
    .selectAll("path").data(p.points).join("path")
    .attr("d", d => {
      const cx = x(d[0]), cy = y(d[1]);
      return `M${cx - s},${cy - s}L${cx + s},${cy + s}M${cx - s},${cy + s}L${cx + s},${cy - s}`;
    })
    .attr("stroke", "#22ee22").attr("stroke-width", 1.15).attr("fill", "none");

  // expected curve
  const curve = curveAngle.map((a, k) => [a, curvePDE[k]]);
  g.append("path").datum(curve)
    .attr("d", d3.line().x(d => x(d[0])).y(d => y(d[1])).curve(d3.curveMonotoneX))
    .attr("fill", "none").attr("stroke", "#ff6e6e").attr("stroke-width", 1.5);

  // source rail diagram
  const r = p.rail;
  const sx = d3.scaleLinear().domain([1, 5]).range([r.x0 + 33.5, r.x0 + 33.5 + 265]);
  const dg = svg.append("g");
  dg.append("line").attr("x1", r.x0).attr("x2", r.x1).attr("y1", r.y).attr("y2", r.y)
    .attr("stroke", "#e0305a").attr("stroke-width", 2);
  dg.selectAll("ellipse").data(sourceSlots).join("ellipse")
    .attr("cx", d => sx(d)).attr("cy", r.y).attr("rx", 6.2).attr("ry", 15.5)
    .attr("fill", "#ff40ff").attr("stroke", "#000").attr("stroke-width", 1.6);
  dg.append("circle")
    .attr("cx", sx(p.active) + r.dx).attr("cy", r.y + r.dy).attr("r", 33)
    .attr("fill", "none").attr("stroke", "#e2244c").attr("stroke-width", 5.5);
});

// bullet text block
const tb = svg.append("g")
  .attr("font-family", "'Liberation Serif', 'Times New Roman', Times, serif")
  .attr("font-size", 43.5).attr("fill", "#000");
const bulletBase = [512, 612];
bulletLines.forEach((lines, i) => {
  tb.append("text").attr("x", 997).attr("y", bulletBase[i]).text("\u2022");
  lines.forEach((t, j) => {
    tb.append("text").attr("x", 1029).attr("y", bulletBase[i] + j * 47).text(t);
  });
});
</script>
</body>
</html>
